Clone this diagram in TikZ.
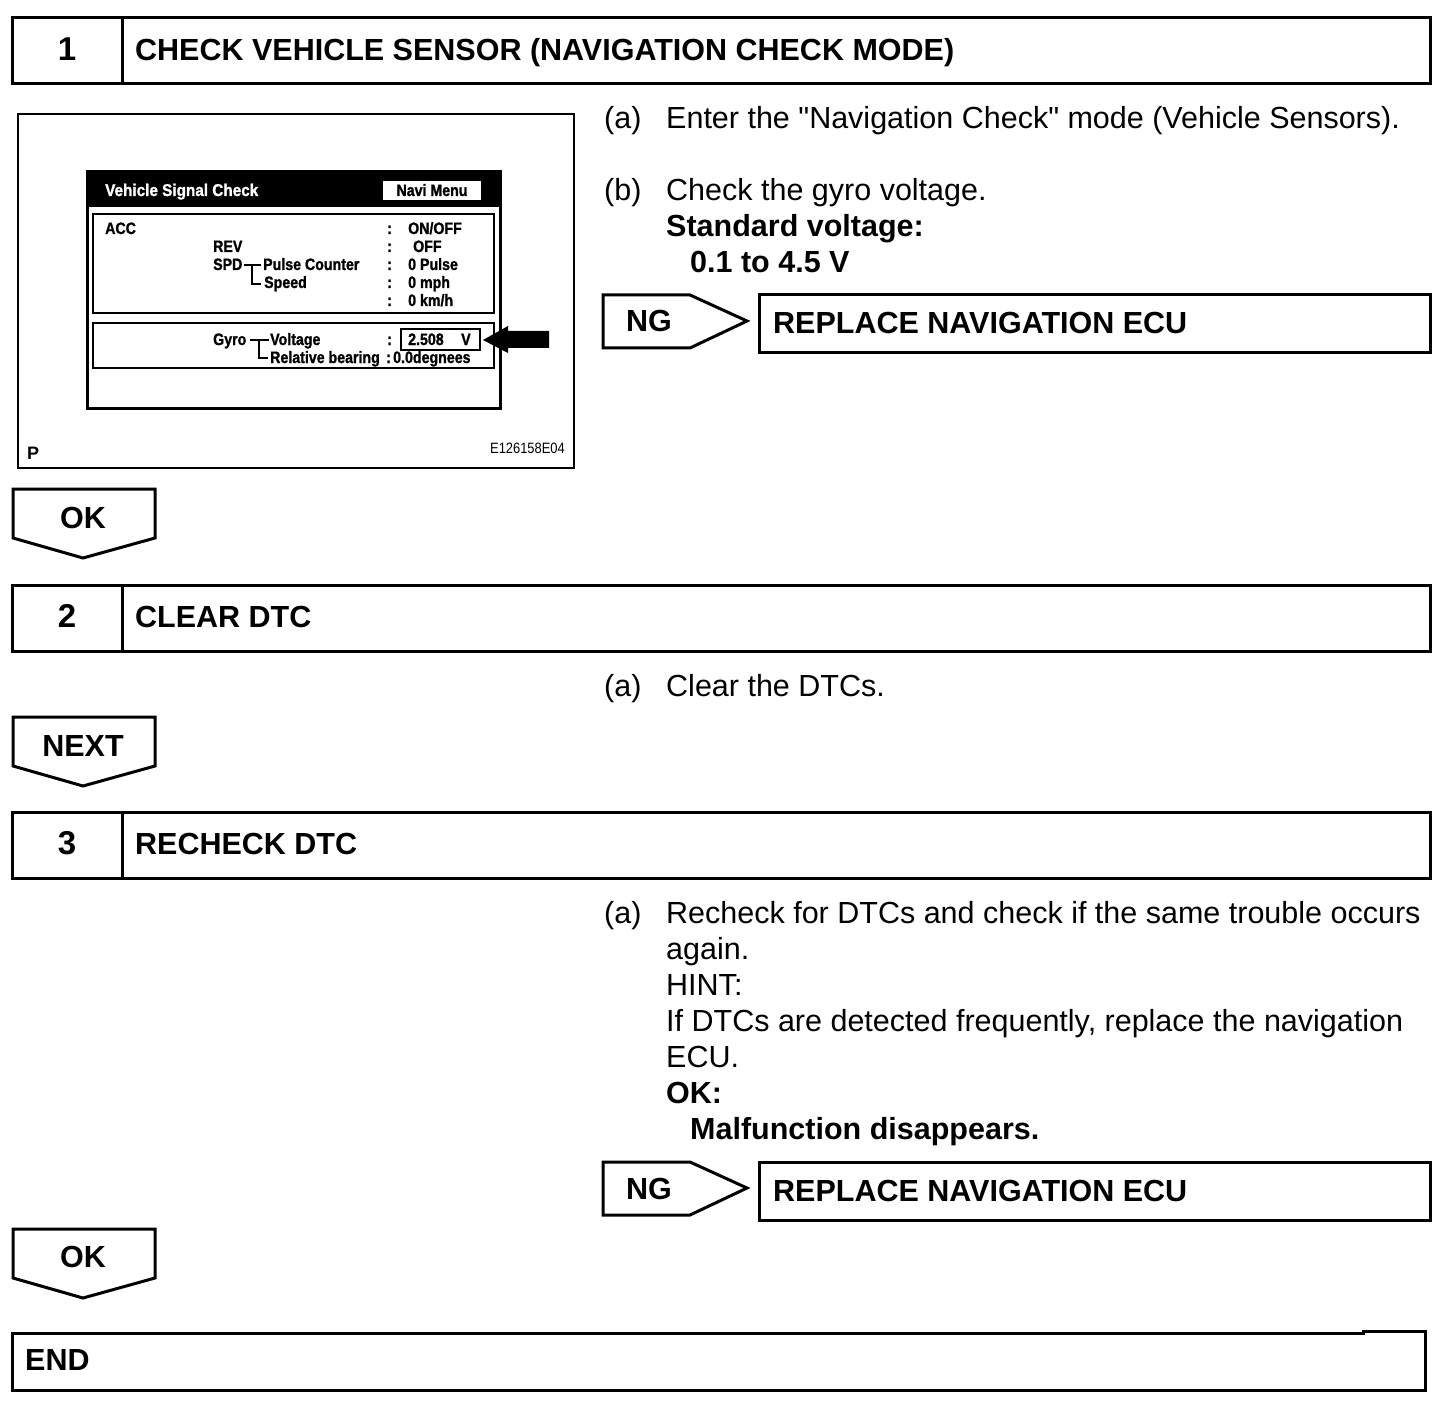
\documentclass[tikz,border=0pt]{standalone}
\usepackage{fontspec}
\setmainfont{Liberation Sans}[Ligatures=TeXOff]
\newfontfamily\scrfont[FakeStretch=0.86, BoldFeatures={FakeBold=1.2}]{Liberation Sans}
\newfontfamily\scrtitle[FakeStretch=0.9, BoldFeatures={FakeBold=1.2}]{Liberation Sans}
\begin{document}
\begin{tikzpicture}[x=1pt,y=-1pt,
  frame/.style={draw, line width=3pt},
  thinframe/.style={draw, line width=2pt},
  title/.style={anchor=base west, font=\fontsize{30.5}{36}\selectfont\bfseries, inner sep=0pt},
  num/.style={anchor=base, font=\fontsize{33}{36}\selectfont\bfseries, inner sep=0pt},
  body/.style={anchor=base west, font=\fontsize{30.5}{36}\selectfont, inner sep=0pt},
  bodyb/.style={anchor=base west, font=\fontsize{30.5}{36}\selectfont\bfseries, inner sep=0pt},
  lbl/.style={anchor=base, font=\fontsize{30.5}{36}\selectfont\bfseries, inner sep=0pt},
  scr/.style={anchor=base west, font=\scrfont\fontsize{16.5}{18}\selectfont\bfseries, inner sep=0pt},
  scrw/.style={anchor=base west, font=\scrtitle\fontsize{17}{18}\selectfont\bfseries, inner sep=0pt, text=white}
]
\useasboundingbox (0,0) rectangle (1456,1412);

% ---------- Step 1 ----------
\draw[frame] (12,18) rectangle (1430,84);
\draw[frame] (122,18) -- (122,84);
\node[num] (n1) at (67,61) {1};
\node[title] (t1) at (135,61) {CHECK VEHICLE SENSOR (NAVIGATION CHECK MODE)};

% screen picture
\draw[thinframe] (18,114) rectangle (574,468);
\draw[frame] (87,172) rectangle (500,408);
\fill (87,172) rectangle (500,207);
\node[scrw] (vsc) at (105,196) {Vehicle Signal Check};
\fill[white] (383,181) rectangle (481,200);
\node[scr, anchor=base] (navi) at (432,196) {Navi Menu};
\draw[thinframe] (93,214) rectangle (494,313);
\draw[thinframe] (93,323) rectangle (494,368);

\node[scr] (acc) at (105,234) {ACC};
\node[scr] (rev) at (213,252) {REV};
\node[scr] (spd) at (213,270) {SPD};
\node[scr] (pc) at (263,270) {Pulse Counter};
\node[scr] (spdl) at (264,288) {Speed};
\draw[line width=1.5pt] (244,265) -- (261,265);
\draw[line width=1.5pt] (252,265) -- (252,284) -- (261,284);
\node[scr] (c1) at (387,234) {:};
\node[scr] (c2) at (387,252) {:};
\node[scr] (c3) at (387,270) {:};
\node[scr] (c4) at (387,288) {:};
\node[scr] (c5) at (387,306) {:};
\node[scr] (v1) at (408,234) {ON/OFF};
\node[scr] (v2) at (413,252) {OFF};
\node[scr] (v3) at (408,270) {0 Pulse};
\node[scr] (v4) at (408,288) {0 mph};
\node[scr] (v5) at (408,306) {0 km/h};

\node[scr] (gyro) at (213,345) {Gyro};
\node[scr] (volt) at (270,345) {Voltage};
\node[scr] (relb) at (270,363) {Relative bearing};
\draw[line width=1.5pt] (250,340) -- (269,340);
\draw[line width=1.5pt] (259,340) -- (259,358) -- (268,358);
\node[scr] (c6) at (387,345) {:};
\draw[line width=2pt] (401,329) rectangle (480,350);
\node[scr] (gv) at (408,345) {2.508};
\node[scr] (gvu) at (461,345) {V};
\node[scr] (c7) at (386,363) {:};
\node[scr] (gb) at (393,363) {0.0degnees};
\fill (549,331) -- (508,331) -- (508,326) -- (483,340) -- (508,353) -- (508,348) -- (549,348) -- cycle;

\node[anchor=base west, font=\fontsize{18}{20}\selectfont\bfseries, inner sep=0pt] (p) at (27,459) {P};
\node[anchor=base east, font=\scrfont\fontsize{15}{18}\selectfont, inner sep=0pt] (code) at (565,453) {E126158E04};

% step 1 texts
\node[body] (a1) at (604,129) {(a)};
\node[body] (a1t) at (666,129) {Enter the "Navigation Check" mode (Vehicle Sensors).};
\node[body] (b1) at (604,201) {(b)};
\node[body] (b1t) at (666,201) {Check the gyro voltage.};
\node[bodyb] (sv) at (666,237) {Standard voltage:};
\node[bodyb] (svv) at (690,273) {0.1 to 4.5 V};

% NG 1
\draw[frame] (603,295) -- (690,295) -- (747,321) -- (690,348) -- (603,348) -- cycle;
\node[lbl] (ng1) at (649,332) {NG};
\draw[frame] (759,295) rectangle (1430,353);
\node[title] (r1) at (773,334) {REPLACE NAVIGATION ECU};

% OK 1
\draw[frame] (13,489) -- (155,489) -- (155,538) -- (83,558) -- (13,538) -- cycle;
\node[lbl] (ok1) at (83,528) {OK};

% ---------- Step 2 ----------
\draw[frame] (12,585) rectangle (1430,651);
\draw[frame] (122,585) -- (122,651);
\node[num] (n2) at (67,627) {2};
\node[title] (t2) at (135,627) {CLEAR DTC};
\node[body] (a2) at (604,696) {(a)};
\node[body] (a2t) at (666,696) {Clear the DTCs.};

% NEXT
\draw[frame] (13,717) -- (155,717) -- (155,766) -- (83,786) -- (13,766) -- cycle;
\node[lbl] (next) at (83,756) {NEXT};

% ---------- Step 3 ----------
\draw[frame] (12,812) rectangle (1430,878);
\draw[frame] (122,812) -- (122,878);
\node[num] (n3) at (67,854) {3};
\node[title] (t3) at (135,854) {RECHECK DTC};

\node[body] (a3) at (604,923) {(a)};
\node[body] (l1) at (666,923) {Recheck for DTCs and check if the same trouble occurs};
\node[body] (l2) at (666,959) {again.};
\node[body] (l3) at (666,995) {HINT:};
\node[body] (l4) at (666,1031) {If DTCs are detected frequently, replace the navigation};
\node[body] (l5) at (666,1067) {ECU.};
\node[bodyb] (l6) at (666,1103) {OK:};
\node[bodyb] (l7) at (690,1139) {Malfunction disappears.};

% NG 2
\draw[frame] (603,1162) -- (690,1162) -- (747,1188) -- (690,1215) -- (603,1215) -- cycle;
\node[lbl] (ng2) at (649,1199) {NG};
\draw[frame] (759,1162) rectangle (1430,1220);
\node[title] (r2) at (773,1201) {REPLACE NAVIGATION ECU};

% OK 2
\draw[frame] (13,1229) -- (155,1229) -- (155,1278) -- (83,1298) -- (13,1278) -- cycle;
\node[lbl] (ok2) at (83,1267) {OK};

% END
\draw[frame] (12,1333) -- (1363,1333) -- (1363,1331) -- (1425,1331) -- (1425,1390) -- (12,1390) -- cycle;
\node[title] (end) at (25,1370) {END};
\end{tikzpicture}
\end{document}
